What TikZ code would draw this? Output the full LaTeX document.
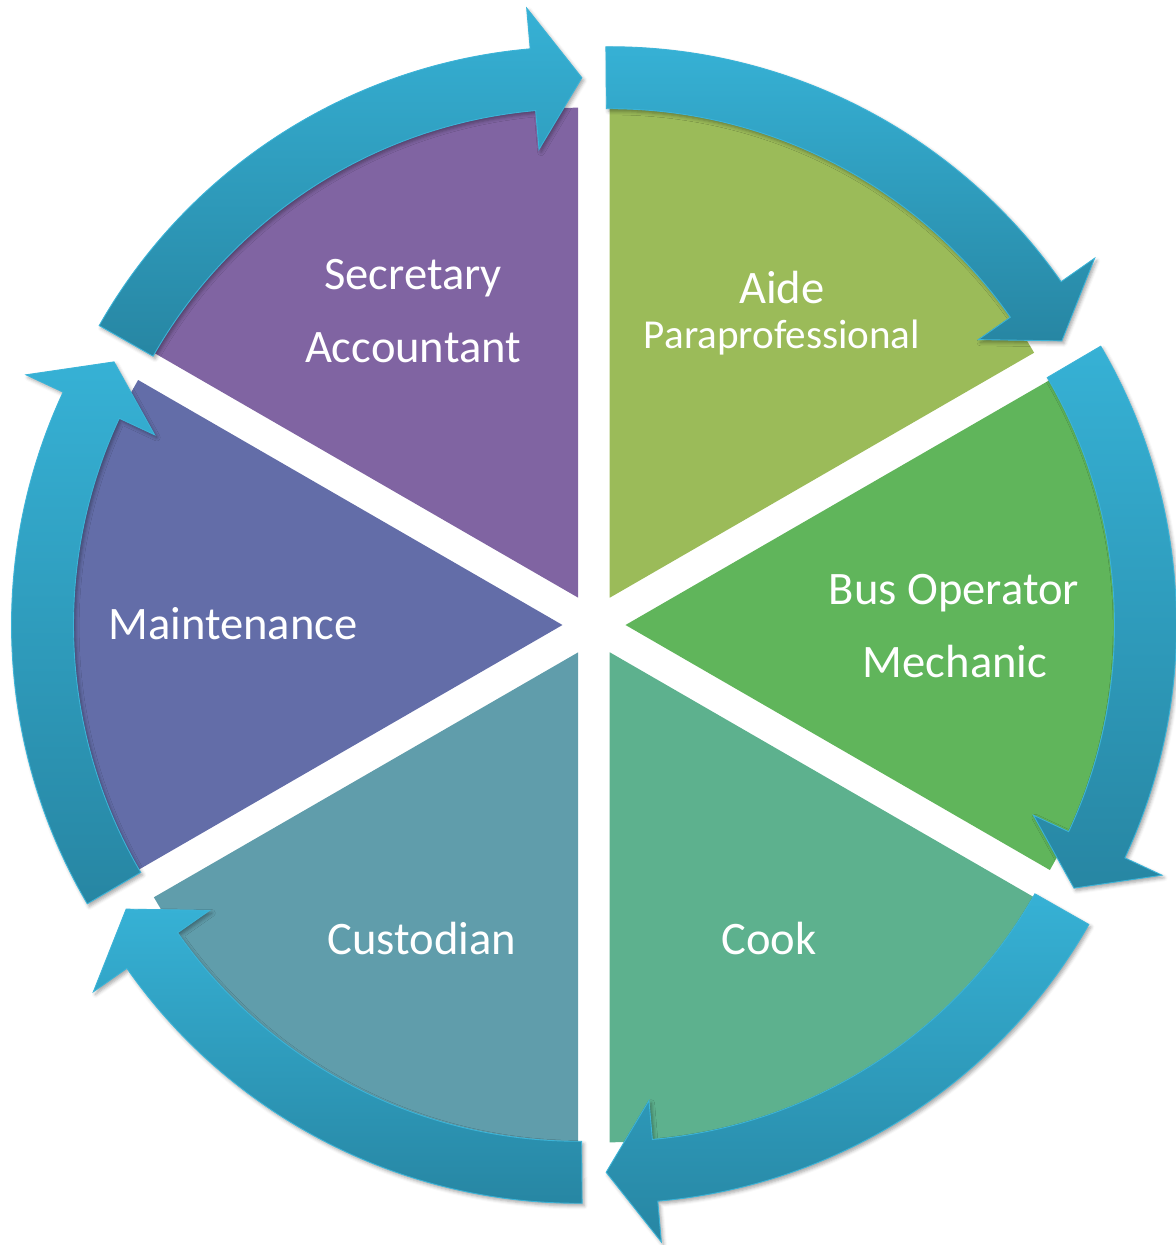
\documentclass[tikz,border=0pt]{standalone}
\usepackage{fontspec}
\setmainfont{Carlito}
\usetikzlibrary{shadows.blur}
\definecolor{secfill}{HTML}{8064A2}
\definecolor{aidefill}{HTML}{9BBB59}
\definecolor{busfill}{HTML}{60B55B}
\definecolor{cookfill}{HTML}{5DB18E}
\definecolor{custfill}{HTML}{609DAB}
\definecolor{maintfill}{HTML}{636DA8}
\definecolor{arrlight}{HTML}{36B1D5}
\definecolor{arrdark}{HTML}{2786A3}
\definecolor{arredge}{HTML}{3CB4D8}

\begin{document}
\begin{tikzpicture}[x=0.02cm,y=0.02cm,
  cyc/.style={top color=arrlight,bottom color=arrdark,draw=arredge,line width=0.5pt,line join=miter,
    blur shadow={shadow xshift=1.2pt,shadow yshift=-1.5pt,shadow blur radius=2pt,shadow opacity=35}},
  lbl/.style={text=white,anchor=base,inner sep=0pt,font=\fontsize{26.5}{30}\selectfont},
  small/.style={lbl,font=\fontsize{23.4}{27}\selectfont}]
\useasboundingbox (-594,-620) rectangle (582,625);
% segments
\fill[aidefill,shift={(60:31.5)}] (0,0) -- (30:490) arc[start angle=30,end angle=90,radius=490] -- cycle;
\fill[busfill,shift={(0:31.5)}] (0,0) -- (-30:490) arc[start angle=-30,end angle=30,radius=490] -- cycle;
\fill[cookfill,shift={(-60:31.5)}] (0,0) -- (-90:490) arc[start angle=-90,end angle=-30,radius=490] -- cycle;
\fill[custfill,shift={(-120:31.5)}] (0,0) -- (-150:490) arc[start angle=-150,end angle=-90,radius=490] -- cycle;
\fill[maintfill,shift={(180:31.5)}] (0,0) -- (150:490) arc[start angle=150,end angle=210,radius=490] -- cycle;
\fill[secfill,shift={(120:31.5)}] (0,0) -- (90:490) arc[start angle=90,end angle=150,radius=490] -- cycle;
% arrows round the segments
\draw[cyc,shift={(60:31.5)}] (90.4:551) arc[start angle=90.4,end angle=35,radius=551] -- (35:592) -- (29.6:520) -- (35:450) -- (35:489) arc[start angle=35,end angle=90.4,radius=489] -- cycle;
\draw[cyc,shift={(0:31.5)}] (30.4:551) arc[start angle=30.4,end angle=-25,radius=551] -- (-25:592) -- (-30.4:520) -- (-25:450) -- (-25:489) arc[start angle=-25,end angle=30.4,radius=489] -- cycle;
\draw[cyc,shift={(-60:31.5)}] (-29.6:551) arc[start angle=-29.6,end angle=-85,radius=551] -- (-85:592) -- (-90.4:520) -- (-85:450) -- (-85:489) arc[start angle=-85,end angle=-29.6,radius=489] -- cycle;
\draw[cyc,shift={(-120:31.5)}] (-89.6:551) arc[start angle=-89.6,end angle=-145,radius=551] -- (-145:592) -- (-150.4:520) -- (-145:450) -- (-145:489) arc[start angle=-145,end angle=-89.6,radius=489] -- cycle;
\draw[cyc,shift={(180:31.5)}] (210.4:551) arc[start angle=210.4,end angle=155,radius=551] -- (155:592) -- (149.6:520) -- (155:450) -- (155:489) arc[start angle=155,end angle=210.4,radius=489] -- cycle;
\draw[cyc,shift={(120:31.5)}] (150.4:551) arc[start angle=150.4,end angle=95,radius=551] -- (95:592) -- (89.6:520) -- (95:450) -- (95:489) arc[start angle=95,end angle=150.4,radius=489] -- cycle;
% labels
\node[lbl] (sec) at (-181,336) {Secretary};
\node[lbl] (acc) at (-181,263) {Accountant};
\node[lbl] (aide) at (188,321) {Aide};
\node[small] (para) at (188,276) {Paraprofessional};
\node[lbl] (bus) at (360,21) {Bus Operator};
\node[lbl] (mech) at (361,-52) {Mechanic};
\node[lbl] (cook) at (175,-329) {Cook};
\node[lbl] (cust) at (-172,-329) {Custodian};
\node[lbl] (maint) at (-361,-14) {Maintenance};
\end{tikzpicture}
\end{document}
